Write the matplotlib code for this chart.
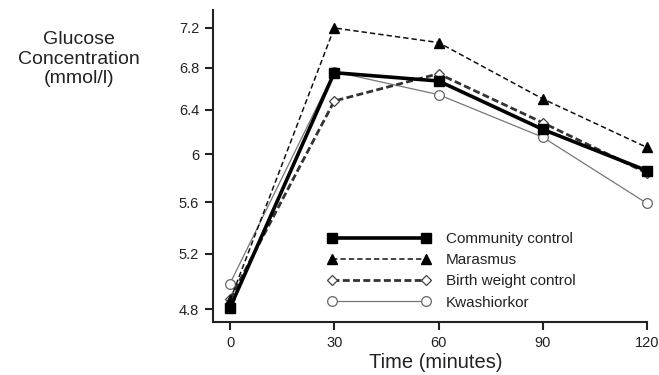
import matplotlib
matplotlib.use('Agg')
import matplotlib.pyplot as plt
from matplotlib.ticker import FixedLocator, NullLocator

plt.rcParams['font.family'] = ['Liberation Sans', 'DejaVu Sans']

# data
times = [0, 30, 60, 90, 120]
community = [4.81, 6.75, 6.67, 6.22, 5.86]
marasmus = [4.86, 7.20, 7.05, 6.50, 6.06]
birth_weight = [4.87, 6.48, 6.74, 6.28, 5.84]
kwashiorkor = [4.98, 6.76, 6.54, 6.15, 5.59]

yticks = [4.8, 5.2, 5.6, 6.0, 6.4, 6.8, 7.2]
ytick_labels = ['4.8', '5.2', '5.6', '6', '6.4', '6.8', '7.2']

fig = plt.figure(figsize=(6.59, 3.75), dpi=100)
ax = fig.add_axes([213 / 659, 53 / 375, 434 / 659, 312 / 375])

txt = '#222222'

l4, = ax.plot(times, kwashiorkor, color='#777777', lw=0.9, marker='o', ms=7,
              mfc='white', mec='#666666', mew=0.9, clip_on=False, zorder=3)
l3, = ax.plot(times, birth_weight, color='#333333', lw=2.0, ls=(0, (2.5, 1.2)),
              marker='D', ms=5.5, mfc='white', mec='#444444', mew=0.9,
              clip_on=False, zorder=4)
l2, = ax.plot(times, marasmus, color='#111111', lw=1.1, ls=(0, (3.5, 2)),
              marker='^', ms=7, mfc='black', mec='black', clip_on=False, zorder=5)
l1, = ax.plot(times, community, color='black', lw=2.6, marker='s', ms=6.5,
              mfc='black', mec='black', clip_on=False, zorder=6)

ax.set_yscale('log')
ax.set_xlim(-4.9, 120)
ax.set_ylim(4.711, 7.389)
ax.yaxis.set_major_locator(FixedLocator(yticks))
ax.yaxis.set_minor_locator(NullLocator())
ax.set_yticklabels(ytick_labels)
ax.set_xticks(times)
ax.set_xticklabels([str(t) for t in times])

for s in ['top', 'right']:
    ax.spines[s].set_visible(False)
for s in ['left', 'bottom']:
    ax.spines[s].set_linewidth(1.5)
    ax.spines[s].set_color('#222222')
ax.tick_params(direction='out', length=6, width=1.5, colors='#222222',
               labelsize=10.5, labelcolor=txt, pad=4)

ax.set_xlabel('Time (minutes)', fontsize=14.5, color=txt, va='center')
ax.xaxis.set_label_coords((436 - 213) / 434, -(362 - 322) / 312)

fig.text(79 / 659, (375 - 59) / 375, 'Glucose\nConcentration\n(mmol/l)',
         ha='center', va='center', fontsize=14, color=txt, linespacing=1.22)

ax.legend([l1, l2, l3, l4],
          ['Community control', 'Marasmus', 'Birth weight control', 'Kwashiorkor'],
          loc='upper left', bbox_to_anchor=(327 / 659, (375 - 232) / 375),
          bbox_transform=fig.transFigure, frameon=False, fontsize=11,
          handlelength=6.8, handletextpad=1.0, labelspacing=0.47,
          borderpad=0, borderaxespad=0, numpoints=2, labelcolor=txt)

fig.savefig('out.png', dpi=100)
